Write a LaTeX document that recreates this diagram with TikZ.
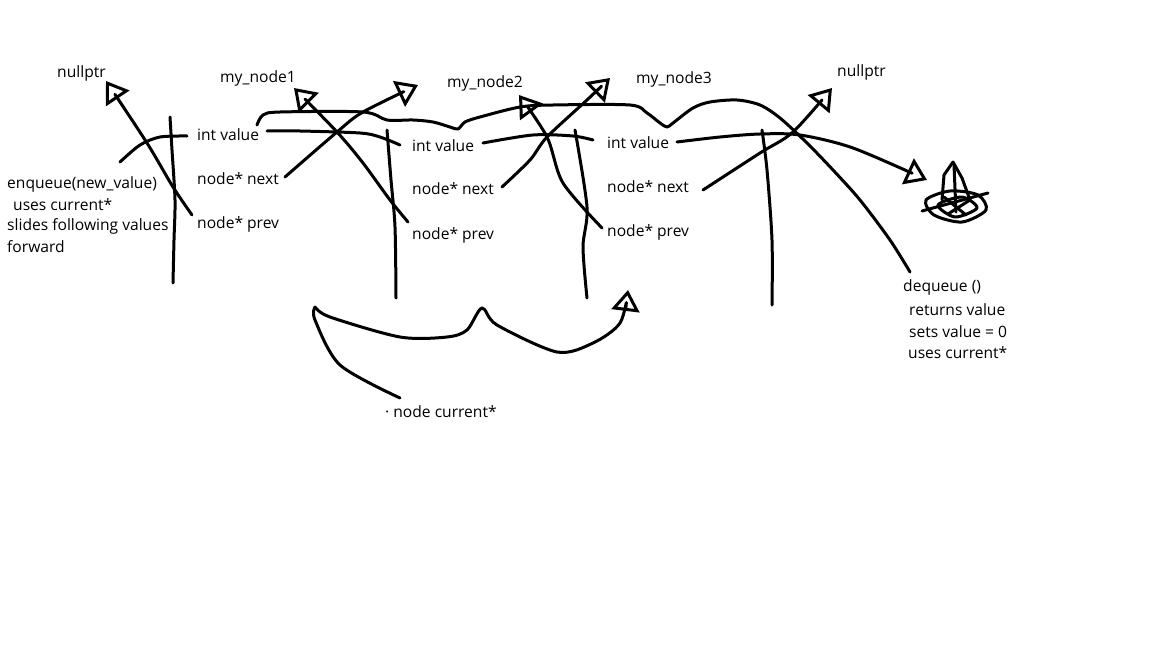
\documentclass[tikz,border=0pt]{standalone}
\usepackage{fontspec}
\setmainfont{Open Sans}
\usetikzlibrary{arrows.meta,calc}

\begin{document}
\begin{tikzpicture}[x=1pt,y=-1pt,
	lbl/.style={anchor=base west,inner sep=0pt,font=\fontsize{15.6}{18}\selectfont},
	pen/.style={line width=3pt,line cap=round,line join=round},
	tri/.style={-{Triangle[open,length=21pt,width=28pt,line width=3pt]}}]
		\fill [white] (0,0) rectangle (1152,648);
		\useasboundingbox (0,0) rectangle (1152,648);
		\node [lbl] (null1) at (57,77) {nullptr};
		\node [lbl] (mn1) at (220,82) {my\_node1};
		\node [lbl] (mn2) at (447,87) {my\_node2};
		\node [lbl] (mn3) at (636,83) {my\_node3};
		\node [lbl] (null2) at (837,76) {nullptr};
		\node [lbl] (n1val) at (197,140) {int value};
		\node [lbl] (n1next) at (197,184) {node* next};
		\node [lbl] (n1prev) at (197,228) {node* prev};
		\node [lbl] (n2val) at (412,151) {int value};
		\node [lbl] (n2next) at (412,194) {node* next};
		\node [lbl] (n2prev) at (412,239) {node* prev};
		\node [lbl] (n3val) at (607,148) {int value};
		\node [lbl] (n3next) at (607,192) {node* next};
		\node [lbl] (n3prev) at (607,236) {node* prev};
		\node [lbl] (enq1) at (7,188) {enqueue(new\_value)};
		\node [lbl] (enq2) at (13,210) {uses current*};
		\node [lbl] (enq3) at (7,230) {slides following values};
		\node [lbl] (enq4) at (7,252) {forward};
		\node [lbl] (deq1) at (903,291) {dequeue ()};
		\node [lbl] (deq2) at (909,315) {returns value};
		\node [lbl] (deq3) at (909,337) {sets value = 0};
		\node [lbl] (deq4) at (908,358) {uses current*};
		\node [lbl] (cur) at (385,417) {· node current*};
		\coordinate (p1) at (192,215);
		\coordinate (t1) at (106,81);
		\coordinate (v1) at (187,136);
		\coordinate (e1) at (120,162);
		\coordinate (l1) at (257,125);
		\coordinate (d1) at (910,272);
		\coordinate (v1b) at (267,131);
		\coordinate (v2a) at (400,145);
		\coordinate (x1) at (285,177);
		\coordinate (t2) at (418,85);
		\coordinate (p2) at (408,222);
		\coordinate (t3) at (294,88);
		\coordinate (v2b) at (483,143);
		\coordinate (v3a) at (593,140);
		\coordinate (x2) at (502,187);
		\coordinate (t4) at (610,78);
		\coordinate (p3) at (602,228);
		\coordinate (t5) at (519,95);
		\coordinate (v3b) at (677,142);
		\coordinate (t6) at (927,180);
		\coordinate (x3) at (703,190);
		\coordinate (t7) at (832,88);
		\coordinate (b1) at (315,307);
		\coordinate (t8) at (628,290);
		\coordinate (c1) at (400,398);
		\draw [pen,tri] plot [smooth] coordinates {(p1) (173,187) (147,143) (t1)};
		\draw [pen] plot [smooth] coordinates {(v1) (160,137) (140,145) (e1)};
		\draw [pen] plot [smooth] coordinates {(170,117) (172,150) (175,200) (174,240) (173,283)};
		\draw [pen] plot [smooth,tension=0.5] coordinates {(l1) (263,115) (280,112) (363,112) (387,120) (413,120) (433,122) (450,127) (458,129) (465,122) (480,117) (520,107) (553,105) (630,105) (647,113) (660,123) (667,127) (673,123) (693,108) (710,102) (737,100) (760,105) (780,118) (807,143) (833,170) (860,200) (890,240) (d1)};
		\draw [pen] plot [smooth] coordinates {(v1b) (300,131) (360,133) (380,137) (v2a)};
		\draw [pen,tri] plot [smooth] coordinates {(x1) (337,132) (363,112) (t2)};
		\draw [pen,tri] plot [smooth] coordinates {(p2) (390,200) (363,163) (337,132) (t3)};
		\draw [pen] plot [smooth] coordinates {(387,130) (391,180) (395,227) (396,298)};
		\draw [pen] plot [smooth] coordinates {(v2b) (533,135) (573,136) (v3a)};
		\draw [pen,tri] plot [smooth] coordinates {(x2) (530,160) (547,137) (587,100) (t4)};
		\draw [pen,tri] plot [smooth] coordinates {(p3) (563,183) (547,137) (t5)};
		\draw [pen] plot [smooth] coordinates {(575,130) (587,207) (583,247) (587,298)};
		\draw [pen,tri] plot [smooth] coordinates {(v3b) (720,137) (760,134) (800,135) (853,148) (t6)};
		\draw [pen,tri] plot [smooth] coordinates {(x3) (760,153) (793,132) (t7)};
		\draw [pen] plot [smooth] coordinates {(762,130) (767,170) (772,240) (772,305)};
		\draw [pen,tri] plot [smooth,tension=0.5] coordinates {(b1) (330,317) (400,337) (447,337) (467,330) (482,308) (497,325) (557,352) (593,343) (620,323) (t8)};
		\draw [pen] plot [smooth] coordinates {(c1) (340,365) (315,320) (b1)};
		\draw [pen] (942,200) -- (944,175) -- (953,162) -- (962,178) -- (970,200);
		\draw [pen] (954,165) -- (956,212);
		\draw [pen] plot [smooth cycle] coordinates {(926,200) (950,191) (978,195) (986,210) (962,222) (934,215)};
		\draw [pen] plot [smooth cycle] coordinates {(938,205) (962,197) (977,208) (955,217)};
		\draw [pen] (922,211) -- (988,193);
		\draw [pen] (944,197) -- (966,215);
		\draw [pen] (948,214) -- (970,200);
\end{tikzpicture}
\end{document}
